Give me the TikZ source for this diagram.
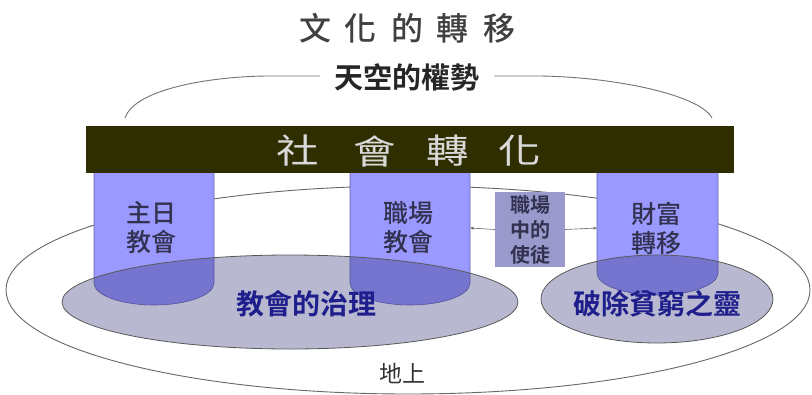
\documentclass[tikz,border=0pt]{standalone}
\usepackage{fontspec}
\usetikzlibrary{arrows.meta,shapes.geometric}
\newfontfamily\cjk{Noto Sans CJK TC}
\newfontfamily\cjkm{Noto Sans CJK TC Medium}
\newfontfamily\cjkb{Noto Sans CJK TC Bold}
\definecolor{barcol}{RGB}{46,46,0}
\definecolor{pillarcol}{RGB}{153,153,255}
\definecolor{pillarline}{RGB}{100,100,170}
\definecolor{ellcol}{RGB}{51,51,120}
\definecolor{boxcol}{RGB}{153,153,204}
\definecolor{bluetext}{RGB}{30,30,140}
\definecolor{darktext}{RGB}{50,50,80}
\begin{document}
\begin{tikzpicture}[x=1pt,y=-1pt,
  pillar/.style={fill=pillarcol,draw=pillarline,line width=0.6pt},
  ovalfill/.style={fill=ellcol,fill opacity=0.35,draw=black!65,line width=0.8pt},
  pillartext/.style={font=\cjkm\fontsize{25}{29}\selectfont,text=darktext,align=center,inner sep=0pt},
  ovaltext/.style={font=\cjkb\fontsize{28}{32}\selectfont,text=bluetext,inner sep=0pt},
  thinline/.style={draw=black!55,line width=0.9pt}]
\useasboundingbox (0,0) rectangle (812,394);
% outer ellipse
\node[draw=black!60,line width=0.9pt,ellipse,minimum width=804pt,minimum height=208pt,inner sep=0pt] (earth) at (408,290) {};
% pillars
\draw[pillar] (94,160) -- (94,283) arc[start angle=180,end angle=360,x radius=60pt,y radius=22pt] -- (214,160) -- cycle;
\draw[pillar] (350,160) -- (350,283) arc[start angle=180,end angle=360,x radius=60pt,y radius=22pt] -- (470,160) -- cycle;
\draw[pillar] (597,160) -- (597,273) arc[start angle=180,end angle=360,x radius=60.5pt,y radius=22pt] -- (718,160) -- cycle;
\coordinate (p2r) at (470,228);
\coordinate (p3l) at (597,228);
% ovals
\path[ovalfill] (290,302) ellipse [x radius=228pt,y radius=47pt];
\path[ovalfill] (657,299) ellipse [x radius=116pt,y radius=44pt];
% small box
\node[fill=boxcol,minimum width=70pt,minimum height=75pt,inner sep=0pt,align=center,
  font=\cjkb\fontsize{20}{25}\selectfont,text=darktext] (apost) at (530,229.5) {職場\\中的\\使徒};
\draw[black!60,line width=0.6pt,-{Stealth[length=4pt,width=3pt]}] (apost.west) -- (p2r);
\draw[black!60,line width=0.6pt,-{Stealth[length=4pt,width=3pt]}] (apost.east) -- (p3l);
% bar
\node[fill=barcol,minimum width=648pt,minimum height=47pt,inner sep=0pt] (bar) at (410,149.5) {};
\foreach \ch/\xx in {社/298,會/375,轉/448,化/520}{
  \node[inner sep=0pt,text=black!15,font=\cjk\fontsize{34}{36}\selectfont,xscale=1.25] at (\xx,151) {\ch};
}
% title
\node[inner sep=0pt,text=black!75,font=\cjkm\fontsize{32}{34}\selectfont] (title) at (407,28)
  {文\hspace{14pt}化\hspace{14pt}的\hspace{14pt}轉\hspace{14pt}移};
% sky
\node[inner sep=0pt,text=black!85,font=\cjkb\fontsize{29}{32}\selectfont] (sky) at (407,77) {天空的權勢};
\coordinate (al) at (125,118);
\coordinate (ar) at (712,118);
\coordinate (sl) at (320,76);
\coordinate (sr) at (494,76);
\draw[thinline] (al) .. controls (135,88) and (215,76) .. (270,76) -- (sl);
\draw[thinline] (sr) -- (540,76) .. controls (615,77) and (700,95) .. (ar);
% pillar texts
\node[pillartext] (t1) at (151,228) {主日\\教會};
\node[pillartext] (t2) at (408,228) {職場\\教會};
\node[pillartext] (t3) at (656,228) {財富\\轉移};
% oval texts
\node[ovaltext] (gov) at (306,304) {教會的治理};
\node[ovaltext] (pov) at (657,304) {破除貧窮之靈};
% earth
\node[inner sep=0pt,text=black!80,font=\cjk\fontsize{23}{26}\selectfont] (earthtext) at (402,373) {地上};
\end{tikzpicture}
\end{document}
